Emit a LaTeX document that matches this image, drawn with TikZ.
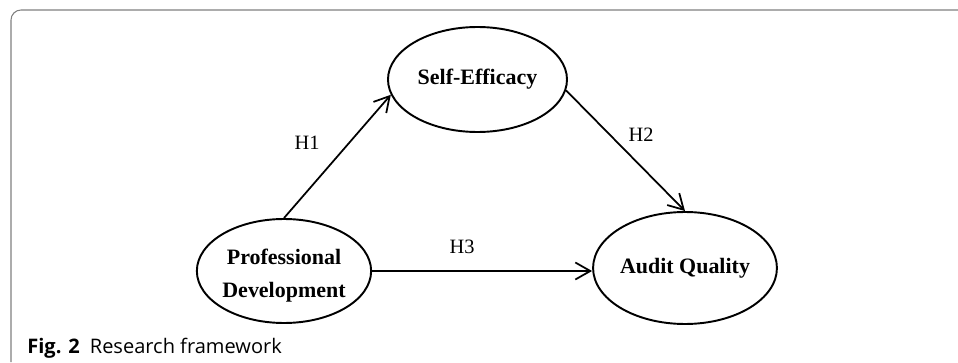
\documentclass[tikz,border=0pt]{standalone}
\usepackage{fontspec}
\setmainfont{Liberation Serif}
\newfontfamily\captionfont{Open Sans}
\usetikzlibrary{shapes.geometric,arrows.meta}
\definecolor{framegray}{RGB}{128,128,128}

\begin{document}
\begin{tikzpicture}[
	construct/.style={draw, ellipse, line width=1.1pt, inner sep=0pt,
		font=\fontsize{12.5}{15}\selectfont\bfseries, align=center},
	hyp/.style={font=\fontsize{11.6}{14}\selectfont},
	conn/.style={line width=1pt, -{Straight Barb[length=3mm,width=3.4mm,line width=1pt]}}]

	\useasboundingbox (0,0) rectangle (19.16,7.24);

	% frame round the figure
	\draw[framegray, line width=0.6pt] (19.16,7.04) -- (0.42,7.04)
		arc[start angle=90, end angle=180, radius=0.2] -- (0.22,0);

	\node[construct, minimum width=3.58cm, minimum height=2.1cm] (se) at (9.55,5.65) {Self-Efficacy};
	\node[construct, minimum width=3.24cm, minimum height=2.08cm] (pd) at (5.68,1.82)
		{\raisebox{-0.2cm}[0pt][0pt]{\begin{tabular}{@{}c@{}}Professional\\[3.8pt]Development\end{tabular}}};
	\node[construct, minimum width=3.2cm, minimum height=2.24cm] (aq) at (13.7,1.88) {Audit Quality};

	% hypotheses
	\draw[conn] (pd.north) -- (se.190);
	\draw[conn] (se.-7) -- (aq.north);
	\draw[conn] (pd.east) -- (pd.east -| aq.west);

	\node[hyp] (h1) at (6.14,4.38) {H1};
	\node[hyp] (h2) at (12.82,4.54) {H2};
	\node[hyp] (h3) at (9.24,2.30) {H3};

	\node[anchor=base west, inner sep=0pt, font=\captionfont\fontsize{11.4}{13}\selectfont] (cap) at (0.54,0.18)
		{\textbf{Fig. 2}\hspace{0.5em}Research framework};
\end{tikzpicture}
\end{document}
